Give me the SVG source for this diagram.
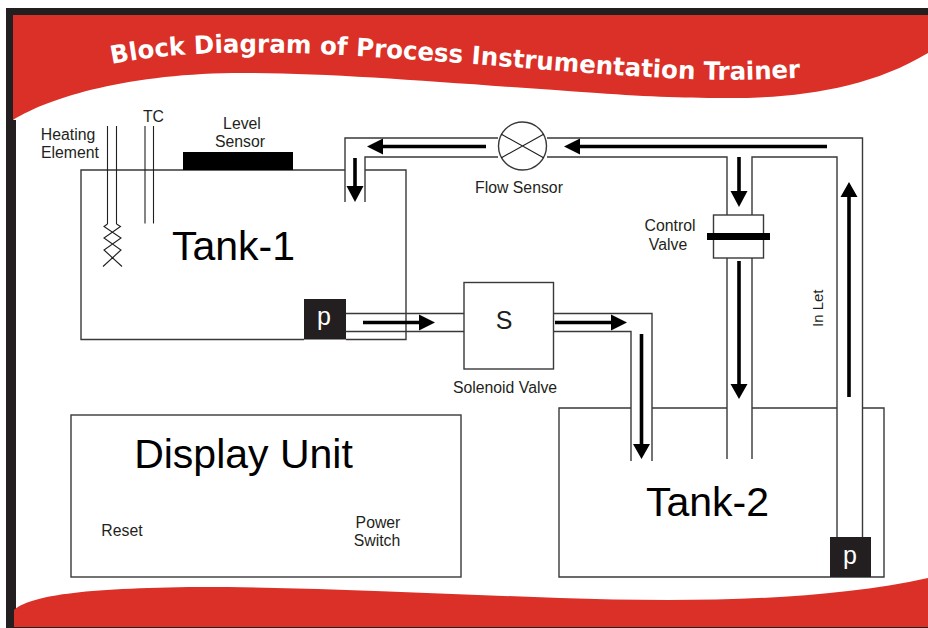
<svg xmlns="http://www.w3.org/2000/svg" width="928" height="628" viewBox="0 0 928 628">
<style>
.ln{fill:none;stroke:#3a3839;stroke-width:1.4}
.bx{fill:#fff;stroke:#3a3839;stroke-width:1.4}
.sh{fill:none;stroke:#000;stroke-width:3.6}
.hd{fill:#000}
.th{fill:none;stroke:#231f20;stroke-width:1.1}
text{font-family:"Liberation Sans",Arial,sans-serif;fill:#231f20}
.s{font-size:15.800px;text-anchor:middle}
.b{font-size:41px;text-anchor:middle;fill:#000}
.p{font-size:25px;text-anchor:middle;fill:#fff}
</style>
<defs><path id="titlePath" d="M112 64C170 52 250 50 340 55C470 62 600 76 700 79.500C740 80.500 770 79 803 77.500"/></defs>
<rect width="928" height="628" fill="#fff"/>
<g id="frame">
<path d="M6 8H928V15H13V120H16V627H928V628H6Z" fill="#231f20"/>
<path d="M13 15H928V53C870 88 800 98 731 98C690 98 650 97 597 93C460 84 340 73 243 73C130 73 50 97 13 120Z" fill="#db3027"/>
<path d="M14 610C30 596 80 588 200 587C320 587 440 594 560 598C680 602 820 602 928 578V627H14Z" fill="#db3027"/>
<text style="font-family:'DejaVu Sans',sans-serif;font-weight:700;font-size:25px;fill:#fff"><textPath href="#titlePath" textLength="690" lengthAdjust="spacingAndGlyphs">Block Diagram of Process Instrumentation Trainer</textPath></text>
</g>
<g id="tank-1">
<path class="ln" d="M345 170H81V339.500H304M346 339.500H406V170H365"/>
<text class="b" x="233.500" y="260">Tank-1</text>
</g>
<g id="level-sensor">
<rect x="183" y="152" width="110" height="18" fill="#000"/>
<text class="s" x="242" y="129">Level</text>
<text class="s" x="240" y="147">Sensor</text>
</g>
<g id="heating-element">
<path class="th" d="M107.500 126V224M116.500 126V224"/>
<path class="th" d="M107.500 224L104 226.500L121 238L104 250L122 266.500M116.500 224L120.500 226.500L104 238L121 250L103 266.500"/>
<text class="s" x="68" y="140">Heating</text>
<text class="s" x="70" y="158">Element</text>
</g>
<g id="tc">
<path class="th" d="M145 126V223.500M153.500 126V223.500"/>
<text class="s" x="153.500" y="122">TC</text>
</g>
<g id="connectors">
<path class="ln" d="M345 202V138H498M365 202V157H498M547 138H862.500V537M547 157H727V215M752 215V157H837V537"/>
<path class="ln" d="M346 313.500H464M346 331.500H464M553 313.500H652V461M553 331.500H631V461"/>
<path class="ln" d="M727 258V459M752 258V459"/>
<path class="sh" d="M486 146.500H381M827 146.500H578M355 158V188M739 157V192M739 261V386M849 397V195M363 322.500H421M555 322.500H613M641.500 334V446"/>
<path class="hd" d="M367 146.500L383 138.500V154.500ZM564 146.500L580 138.500V154.500ZM355 202L346.500 186H363.500ZM739 207L730.500 191H747.500ZM739 399L730.500 384H747.500ZM849 182L840.500 197H857.500ZM435 322.500L419 314.500V330.500ZM627 322.500L611 314.500V330.500ZM641.500 459L633 444H650Z"/>
</g>
<g id="flow-sensor">
<circle class="bx" cx="522.500" cy="146" r="24"/>
<path class="th" d="M501 134L544 158M501 158L544 134"/>
<text class="s" x="519" y="193">Flow Sensor</text>
</g>
<g id="control-valve">
<rect class="bx" x="713.500" y="215" width="50" height="43"/>
<rect x="707" y="233" width="63" height="7" fill="#000"/>
<text class="s" x="670" y="231">Control</text>
<text class="s" x="668" y="250">Valve</text>
</g>
<g id="pump-1">
<rect x="304" y="299" width="42" height="40.500" fill="#231f20"/>
<text class="p" x="324" y="325" style="fill:#fff">p</text>
</g>
<g id="solenoid-valve">
<rect class="bx" x="464" y="282.500" width="89.500" height="86.500"/>
<text x="504" y="329" style="font-size:25px;text-anchor:middle">S</text>
<text class="s" x="505" y="393">Solenoid Valve</text>
</g>
<g id="display-unit">
<rect class="bx" x="71" y="415" width="390" height="162"/>
<text class="b" x="243.500" y="468">Display Unit</text>
<text class="s" x="122" y="536">Reset</text>
<text class="s" x="378" y="528">Power</text>
<text class="s" x="377" y="546">Switch</text>
</g>
<g id="tank-2">
<path class="ln" d="M631 408H559V577H884V408H862.500M837 408H752M727 408H652"/>
<text class="b" x="707.500" y="516">Tank-2</text>
</g>
<g id="pump-2">
<rect x="830" y="537" width="41" height="40" fill="#231f20"/>
<text class="p" x="850" y="564" style="fill:#fff">p</text>
</g>
<text x="0" y="0" transform="translate(823 327) rotate(-90)" style="font-size:15px">In Let</text>
</svg>
